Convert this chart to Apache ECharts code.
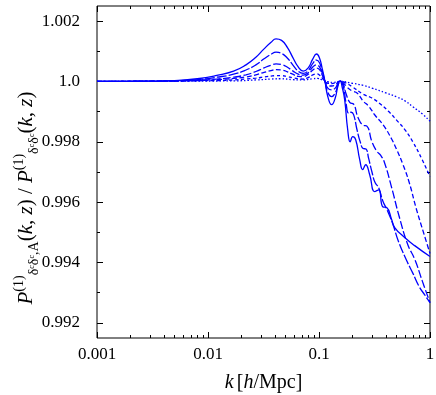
<!DOCTYPE html>
<html>
<head>
<meta charset="utf-8">
<script src="https://cdn.jsdelivr.net/npm/echarts@6/dist/echarts.min.js"></script>
<style>
html,body{margin:0;padding:0;background:#fff;}
#chart{width:436px;height:395px;}
</style>
</head>
<body>
<div id="chart"></div>
<script>
// ---- data ----
const k1 = [0.001,0.003,0.005,0.008,0.012,0.017,0.022,0.027,0.032,0.037,0.041,0.046,0.052,0.058,0.065,0.072,0.08,0.088,0.095,0.101,0.107,0.113,0.12,0.13,0.14,0.148,0.155,0.162,0.1704,0.1814,0.191,0.2012,0.2141,0.2327,0.2475,0.2634,0.2862,0.3176,0.345,0.375,0.4073,0.4518,0.4808,0.5916,0.728,1.0];
const v1 = [1.0,1.00001,1.00003,1.00009,1.0002,1.00034,1.00055,1.0008,1.00108,1.0013,1.00141,1.00136,1.00112,1.0008,1.00048,1.00034,1.00045,1.00075,1.00091,1.00078,1.00042,1.00002,0.9995,0.99923,0.99945,0.99985,1.00002,0.9998,0.99939,0.9984,0.998,0.99817,0.99807,0.99741,0.99708,0.99724,0.99691,0.99635,0.99641,0.99585,0.99582,0.99542,0.99516,0.99483,0.99456,0.9942];

const k2 = [0.001,0.003,0.005,0.008,0.012,0.017,0.022,0.027,0.032,0.037,0.041,0.046,0.052,0.058,0.065,0.072,0.08,0.088,0.095,0.101,0.107,0.113,0.12,0.13,0.14,0.148,0.155,0.165,0.175,0.185,0.195,0.205,0.22,0.235,0.25,0.265,0.28,0.3,0.32,0.345,0.375,0.41,0.46,0.52,0.61,0.7,0.8,0.9,1.0];
const v2 = [1.0,1.00001,1.00002,1.00006,1.00014,1.00024,1.00038,1.00055,1.00075,1.0009,1.00097,1.00093,1.00077,1.00055,1.00034,1.00027,1.00036,1.0006,1.00071,1.00062,1.00033,1.00002,0.99964,0.9995,0.99962,0.99988,1.00001,0.99985,0.9993,0.99895,0.99898,0.9989,0.9984,0.998,0.99778,0.99776,0.99745,0.997,0.99665,0.99648,0.99605,0.99575,0.9953,0.9947,0.9941,0.99365,0.9932,0.99292,0.99267];

const k3 = [0.001,0.005,0.008,0.012,0.017,0.022,0.027,0.032,0.037,0.041,0.046,0.052,0.058,0.065,0.072,0.08,0.088,0.095,0.101,0.107,0.113,0.12,0.13,0.14,0.148,0.155,0.165,0.175,0.19,0.205,0.225,0.25,0.27,0.3,0.33,0.36,0.39,0.45,0.53,0.63,0.73,0.85,1.0];
const v3 = [1.0,1.00001,1.00004,1.00008,1.00014,1.00022,1.00033,1.00045,1.00054,1.00058,1.00056,1.00047,1.00035,1.00024,1.00021,1.00029,1.00048,1.00055,1.00048,1.00026,1.00001,0.99978,0.99972,0.99978,0.99993,1.00001,0.99992,0.9996,0.9993,0.99925,0.9988,0.99855,0.99852,0.998,0.9977,0.99755,0.9973,0.9965,0.9955,0.9946,0.9941,0.9934,0.99267];

const k4 = [0.001,0.008,0.012,0.017,0.022,0.027,0.032,0.037,0.041,0.046,0.052,0.058,0.065,0.072,0.08,0.088,0.095,0.101,0.107,0.113,0.12,0.13,0.14,0.148,0.155,0.165,0.18,0.2,0.22,0.25,0.28,0.32,0.38,0.45,0.5,0.57,0.65,0.75,0.865,1.0];
const v4 = [1.0,1.00003,1.00006,1.0001,1.00015,1.00022,1.0003,1.00036,1.00039,1.00038,1.00032,1.00024,1.00017,1.00016,1.00024,1.00038,1.00044,1.00039,1.00021,1.00001,0.99988,0.99985,0.99989,0.99997,1.00001,0.99996,0.9998,0.99968,0.99962,0.99935,0.99918,0.99888,0.99855,0.9981,0.99775,0.99725,0.99665,0.9958,0.99505,0.9943];

const k5 = [0.001,0.012,0.017,0.022,0.027,0.032,0.037,0.041,0.046,0.052,0.058,0.065,0.072,0.08,0.088,0.095,0.101,0.107,0.113,0.12,0.13,0.14,0.155,0.17,0.2,0.25,0.3,0.35,0.42,0.5,0.6,0.7,0.85,1.0];
const v5 = [1.0,1.00003,1.00005,1.00008,1.00011,1.00015,1.00018,1.00019,1.00019,1.00016,1.00012,1.00009,1.00008,1.00013,1.00022,1.00025,1.00021,1.00011,1.0,0.99994,0.99993,0.99995,1.0,0.99997,0.99982,0.99958,0.99945,0.99928,0.99902,0.99872,0.99838,0.998,0.99741,0.99684];

const k6 = [0.001,0.017,0.027,0.037,0.045,0.058,0.072,0.088,0.097,0.107,0.12,0.135,0.155,0.2,0.25,0.3,0.4,0.5,0.6,0.7,0.85,1.0];
const v6 = [1.0,1.00002,1.00005,1.00008,1.00009,1.00006,1.00005,1.00009,1.0001,1.00005,0.99999,0.99997,1.0,0.99994,0.99987,0.99978,0.99962,0.99949,0.99935,0.99916,0.99893,0.99868];

const xMajorTicks = [0.001,0.01,0.1,1];
const xMinorTicks = [0.002,0.003,0.004,0.005,0.006,0.007,0.008,0.009,0.02,0.03,0.04,0.05,0.06,0.07,0.08,0.09,0.2,0.3,0.4,0.5,0.6,0.7,0.8,0.9];
const yMajorTicks = [0.992,0.994,0.996,0.998,1.0,1.002];
const yMinorTicks = [0.993,0.995,0.997,0.999,1.001];

const dashes = ['solid',[10,2],[8,2.5],[5,2.5],[3.5,2.5],[1.5,2]];
const curves = [[k1,v1],[k2,v2],[k3,v3],[k4,v4],[k5,v5],[k6,v6]];

// ---- chart ----
const BLUE = '#0000ff';
const SERIF = '"Liberation Serif","DejaVu Serif",serif';
const chart = echarts.init(document.getElementById('chart'), null, {renderer:'canvas'});

function xAx(pos, ticks, len, labels, extra){
  return Object.assign({
    type:'log', logBase:10, min:0.001, max:1, position:pos,
    axisLine:{show:false},
    axisTick:{show:true, inside:true, length:len, customValues:ticks, lineStyle:{color:'#000',width:1}},
    axisLabel:{show:labels, customValues:ticks, margin:8, color:'#000', fontFamily:SERIF, fontSize:17,
      formatter: v => String(+v.toPrecision(3))},
    splitLine:{show:false}, minorTick:{show:false}, nameMoveOverlap:false
  }, extra||{});
}
function yAx(pos, ticks, len, labels, extra){
  return Object.assign({
    type:'value', min:0.9915, max:1.0025, position:pos,
    axisLine:{show:false},
    axisTick:{show:true, inside:true, length:len, customValues:ticks, lineStyle:{color:'#000',width:1}},
    axisLabel:{show:labels, customValues:ticks, margin:17, color:'#000', fontFamily:SERIF, fontSize:17,
      formatter: v => Math.abs(v-1)<1e-9 ? '1.0' : v.toFixed(3)},
    splitLine:{show:false}, minorTick:{show:false}, nameMoveOverlap:false
  }, extra||{});
}

const richX = {
  i:{fontFamily:SERIF, fontStyle:'italic', fontSize:20, lineHeight:28, color:'#000'},
  n:{fontFamily:SERIF, fontSize:20, lineHeight:28, color:'#000'}
};
const richY = {
  i:{fontFamily:SERIF, fontStyle:'italic', fontSize:21, lineHeight:29, color:'#000'},
  n:{fontFamily:SERIF, fontSize:21, lineHeight:29, color:'#000'},
  sup:{fontFamily:SERIF, fontSize:14, lineHeight:14, verticalAlign:'top', color:'#000'},
  sub:{fontFamily:SERIF, fontSize:14, lineHeight:14, verticalAlign:'bottom', color:'#000'}
};

const option = {
  animation:false,
  backgroundColor:'#fff',
  grid:{left:97, right:6, top:6, bottom:57, containLabel:false, outerBoundsMode:'none',
    show:true, borderColor:'#000', borderWidth:1, backgroundColor:'transparent'},
  xAxis:[
    xAx('bottom', xMajorTicks, 6, true, {
      name:'{i|k} {n|[}{i|h}{n|/Mpc]}', nameLocation:'middle', nameGap:31,
      nameTextStyle:{rich:richX}
    }),
    xAx('top', xMajorTicks, 6, false),
    xAx('bottom', xMinorTicks, 3, false),
    xAx('top', xMinorTicks, 3, false)
  ],
  yAxis:[
    yAx('left', yMajorTicks, 6, true, {
      name:'{i|P}{sup|(1)}{sub|δᶜδᶜ,A}{n|(}{i|k}{n|, }{i|z}{n|) / }{i|P}{sup|(1)}{sub|δᶜδᶜ}{n|(}{i|k}{n|, }{i|z}{n|)}',
      nameLocation:'middle', nameRotate:90, nameGap:56,
      nameTextStyle:{rich:richY, padding:[0,52,0,0]}
    }),
    yAx('right', yMajorTicks, 6, false),
    yAx('left', yMinorTicks, 3, false),
    yAx('right', yMinorTicks, 3, false)
  ],
  series: curves.map((c, idx) => ({
    type:'line', xAxisIndex:0, yAxisIndex:0,
    data: c[0].map((k, j) => [k, c[1][j]]),
    showSymbol:false, symbol:'none', smooth:0.5, clip:true,
    lineStyle:{color:BLUE, width:1.3, type:dashes[idx]},
    z: 10-idx
  }))
};
chart.setOption(option);
</script>
</body>
</html>
